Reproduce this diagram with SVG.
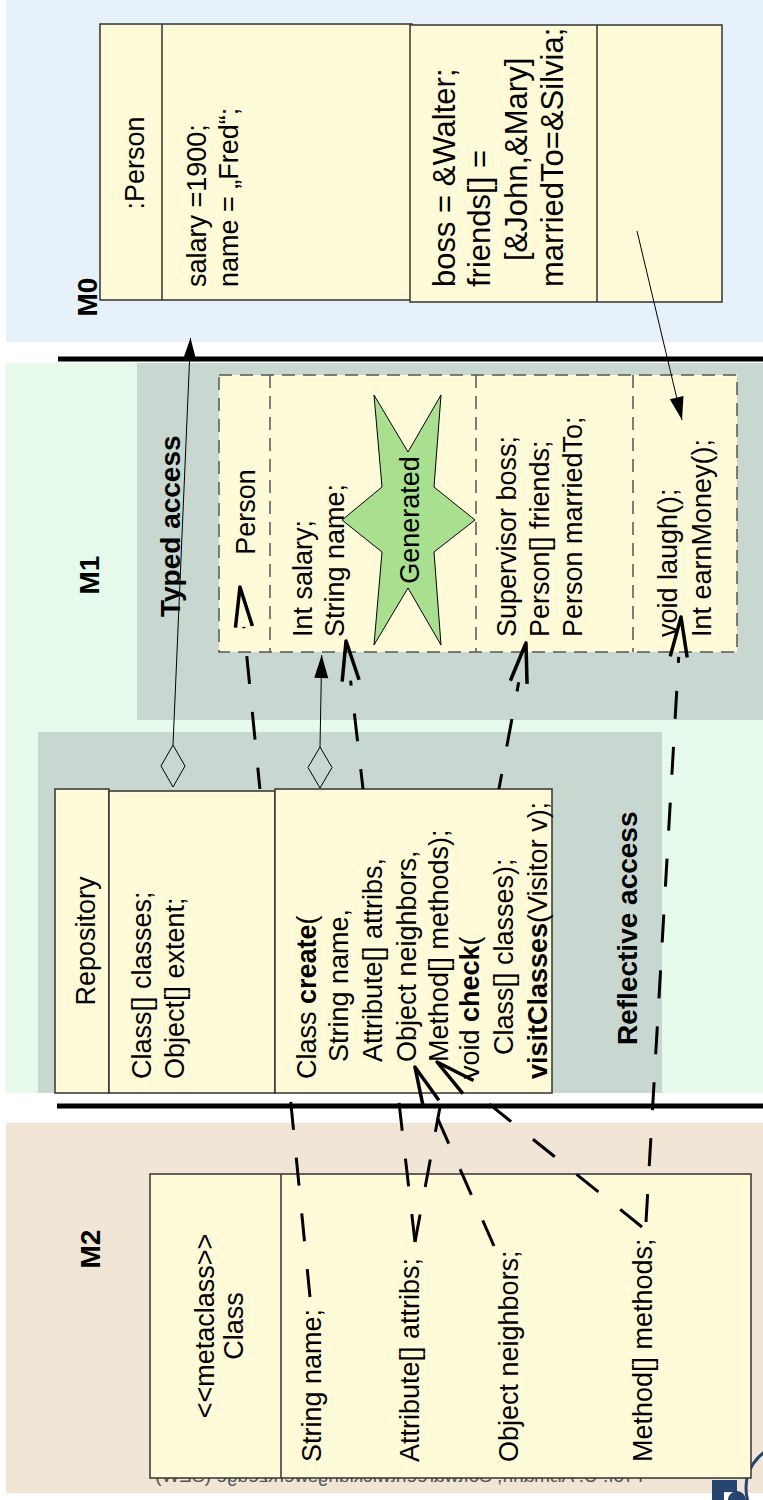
<svg xmlns="http://www.w3.org/2000/svg" width="763" height="1500" viewBox="0 0 763 1500">
<defs>
<style>
.t{font-family:"Liberation Sans",Arial,sans-serif;font-size:27px;fill:#000}
.big{font-size:31px}
.lbl{font-family:"Liberation Sans",Arial,sans-serif;font-size:28px;font-weight:bold;fill:#000}
.box{fill:#fffbd8;stroke:#333;stroke-width:1.5}
.tbox{fill:#fffbd8;stroke:#555;stroke-width:1.5;stroke-dasharray:13 8}
.tdiv{fill:none;stroke:#555;stroke-width:1.5;stroke-dasharray:13 8}
.div{stroke:#333;stroke-width:1.5}
.dash{fill:none;stroke:#000;stroke-width:3;stroke-dasharray:28 28;marker-end:url(#openHead)}
.solid{fill:none;stroke:#000;stroke-width:1;marker-end:url(#fillHead)}
.dia{fill:none;stroke:#000;stroke-width:1}
.sep{stroke:#000;stroke-width:5}
</style>
<marker id="openHead" markerUnits="userSpaceOnUse" orient="auto" refX="0" refY="0" markerWidth="1" markerHeight="1" overflow="visible">
<path d="M0,-8.5 L40,0 L0,8.5" fill="none" stroke="#000" stroke-width="3.5" stroke-dasharray="none" stroke-linejoin="round" stroke-linecap="butt"/>
</marker>
<marker id="fillHead" markerUnits="userSpaceOnUse" orient="auto" refX="0" refY="0" markerWidth="1" markerHeight="1" overflow="visible">
<path d="M0,0 L-23,-7 L-23,7 Z" fill="#000" stroke="none"/>
</marker>
<clipPath id="hole">
<path clip-rule="evenodd" d="M0,0 H763 V1500 H0 Z M55,789 V1093 H552 V789 Z"/>
</clipPath>
</defs>

<g id="backgrounds">
<rect x="6" y="0" width="757" height="342" fill="#e6f1f9"/>
<rect x="6" y="363" width="757" height="730" fill="#e6faec"/>
<rect x="137" y="363" width="626" height="357" fill="#c8d8d0"/>
<rect x="38" y="732" width="624" height="361" fill="#c8d8d0"/>
<rect x="6" y="1123" width="757" height="370" fill="#f1e5d6"/>
<line class="sep" x1="58" y1="359" x2="763" y2="359"/>
<line class="sep" x1="57" y1="1106" x2="763" y2="1106"/>
</g>

<g id="labels">
<text class="lbl" transform="translate(97,297) rotate(-90)" text-anchor="middle">M0</text>
<text class="lbl" transform="translate(99,575) rotate(-90)" text-anchor="middle">M1</text>
<text class="lbl" transform="translate(100,1249) rotate(-90)" text-anchor="middle">M2</text>
<text class="lbl" transform="translate(180,617) rotate(-90)">Typed access</text>
<text class="lbl" transform="translate(637,1045) rotate(-90)">Reflective access</text>
</g>

<g id="footer">
<text transform="translate(643,1482) scale(-1,1)" font-family="Liberation Sans, Arial, sans-serif" font-size="19" fill="#555">Prof. U. Aßmann, Softwareentwicklungswerkzeuge (SEW)</text>
<circle cx="790" cy="1488" r="44" fill="none" stroke="#27456e" stroke-width="3"/>
<path d="M712,1480 H737 V1492 H724 V1500 H712 Z" fill="#27456e"/>
<circle cx="737" cy="1500" r="9" fill="#27456e"/>
</g>

<g id="node-metaclass">
<rect class="box" x="150" y="1174" width="601" height="304"/>
<line class="div" x1="281" y1="1174" x2="281" y2="1478"/>
<text class="t" transform="translate(214,1326) rotate(-90)" text-anchor="middle">&lt;&lt;metaclass&gt;&gt;</text>
<text class="t" transform="translate(243,1326) rotate(-90)" text-anchor="middle">Class</text>
<text class="t" transform="translate(321,1462) rotate(-90)">String name;</text>
<text class="t" transform="translate(419,1462) rotate(-90)">Attribute[] attribs;</text>
<text class="t" transform="translate(518,1462) rotate(-90)">Object neighbors;</text>
<text class="t" transform="translate(652,1462) rotate(-90)">Method[] methods;</text>
</g>

<g id="node-fred">
<rect class="box" x="100" y="24" width="312" height="276"/>
<line class="div" x1="162" y1="24" x2="162" y2="300"/>
<rect class="box" x="410" y="25" width="312" height="277"/>
<line class="div" x1="597" y1="25" x2="597" y2="302"/>
<text class="t" transform="translate(144,163) rotate(-90)" text-anchor="middle">:Person</text>
<text class="t" transform="translate(206,287) rotate(-90)">salary =1900;</text>
<text class="t" transform="translate(238,287) rotate(-90)">name = „Fred“;</text>
<text class="t big" transform="translate(455,287) rotate(-90)">boss = &amp;Walter;</text>
<text class="t big" transform="translate(490,287) rotate(-90)">friends[] =</text>
<text class="t big" transform="translate(527,261) rotate(-90)">[&amp;John,&amp;Mary]</text>
<text class="t big" transform="translate(563,287) rotate(-90)">marriedTo=&amp;Silvia;</text>
</g>

<g id="node-person">
<rect class="tbox" x="219" y="375" width="518" height="277"/>
<line class="tdiv" x1="270" y1="375" x2="270" y2="652"/>
<line class="tdiv" x1="476" y1="375" x2="476" y2="652"/>
<line class="tdiv" x1="633" y1="375" x2="633" y2="652"/>
<text class="t" transform="translate(255,512) rotate(-90)" text-anchor="middle">Person</text>
<g id="node-generated">
<polygon points="374,395 408,452 441,395 434,487 475,520 434,552 441,645 408,588 374,645 382,552 342,520 382,487" fill="#a8e08f" stroke="#000" stroke-width="1"/>
<text class="t" font-size="28" transform="translate(419,520) rotate(-90)" text-anchor="middle">Generated</text>
</g>
<text class="t" transform="translate(312,637) rotate(-90)">Int salary;</text>
<text class="t" transform="translate(344,637) rotate(-90)">String name;</text>
<text class="t" transform="translate(516,637) rotate(-90)">Supervisor boss;</text>
<text class="t" transform="translate(549,637) rotate(-90)">Person[] friends;</text>
<text class="t" transform="translate(582,637) rotate(-90)">Person marriedTo;</text>
<text class="t" transform="translate(677,637) rotate(-90)">void laugh();</text>
<text class="t" transform="translate(711,637) rotate(-90)">Int earnMoney();</text>
</g>

<g id="node-repository">
<rect class="box" x="55" y="789" width="54" height="304"/>
<rect class="box" x="109" y="791" width="166" height="302"/>
<rect class="box" x="275" y="789" width="277" height="304"/>
<text class="t" transform="translate(95,941) rotate(-90)" text-anchor="middle">Repository</text>
<text class="t" transform="translate(151,1079) rotate(-90)">Class[] classes;</text>
<text class="t" transform="translate(184,1079) rotate(-90)">Object[] extent;</text>
<text class="t" transform="translate(316,1079) rotate(-90)">Class <tspan font-weight="bold">create</tspan>(</text>
<text class="t" transform="translate(348,1062) rotate(-90)">String name,</text>
<text class="t" transform="translate(382,1062) rotate(-90)">Attribute[] attribs,</text>
<text class="t" transform="translate(416,1062) rotate(-90)">Object neighbors,</text>
<text class="t" transform="translate(448,1062) rotate(-90)">Method[] methods);</text>
<text class="t" transform="translate(479,1079) rotate(-90)">void <tspan font-weight="bold">check</tspan>(</text>
<text class="t" transform="translate(513,1055) rotate(-90)">Class[] classes);</text>
<text class="t" transform="translate(547,1079) rotate(-90)"><tspan font-weight="bold">visitClasses</tspan>(Visitor v);</text>
</g>

<g id="connectors">
<path class="dash" clip-path="url(#hole)" d="M310,1297 L243.9,626.8"/>
<path class="dash" clip-path="url(#hole)" d="M415,1242 L350.6,680.7"/>
<path class="dash" clip-path="url(#hole)" d="M415,1242 L518.7,682.3"/>
<path class="dash" d="M494,1246 L431.1,1103.6"/>
<path class="dash" d="M642,1227 L468.2,1087.1"/>
<path class="dash" d="M646,1222 L678.7,656.9"/>
<path class="solid" d="M173,745 L190.5,338"/>
<polygon class="dia" points="173,745 185,766 173,787 161,766"/>
<path class="solid" d="M320,747 L321.7,655"/>
<polygon class="dia" points="320,747 332,767.5 320,788 308,767.5"/>
<path class="solid" d="M637,231 L682,420"/>
</g>
</svg>
